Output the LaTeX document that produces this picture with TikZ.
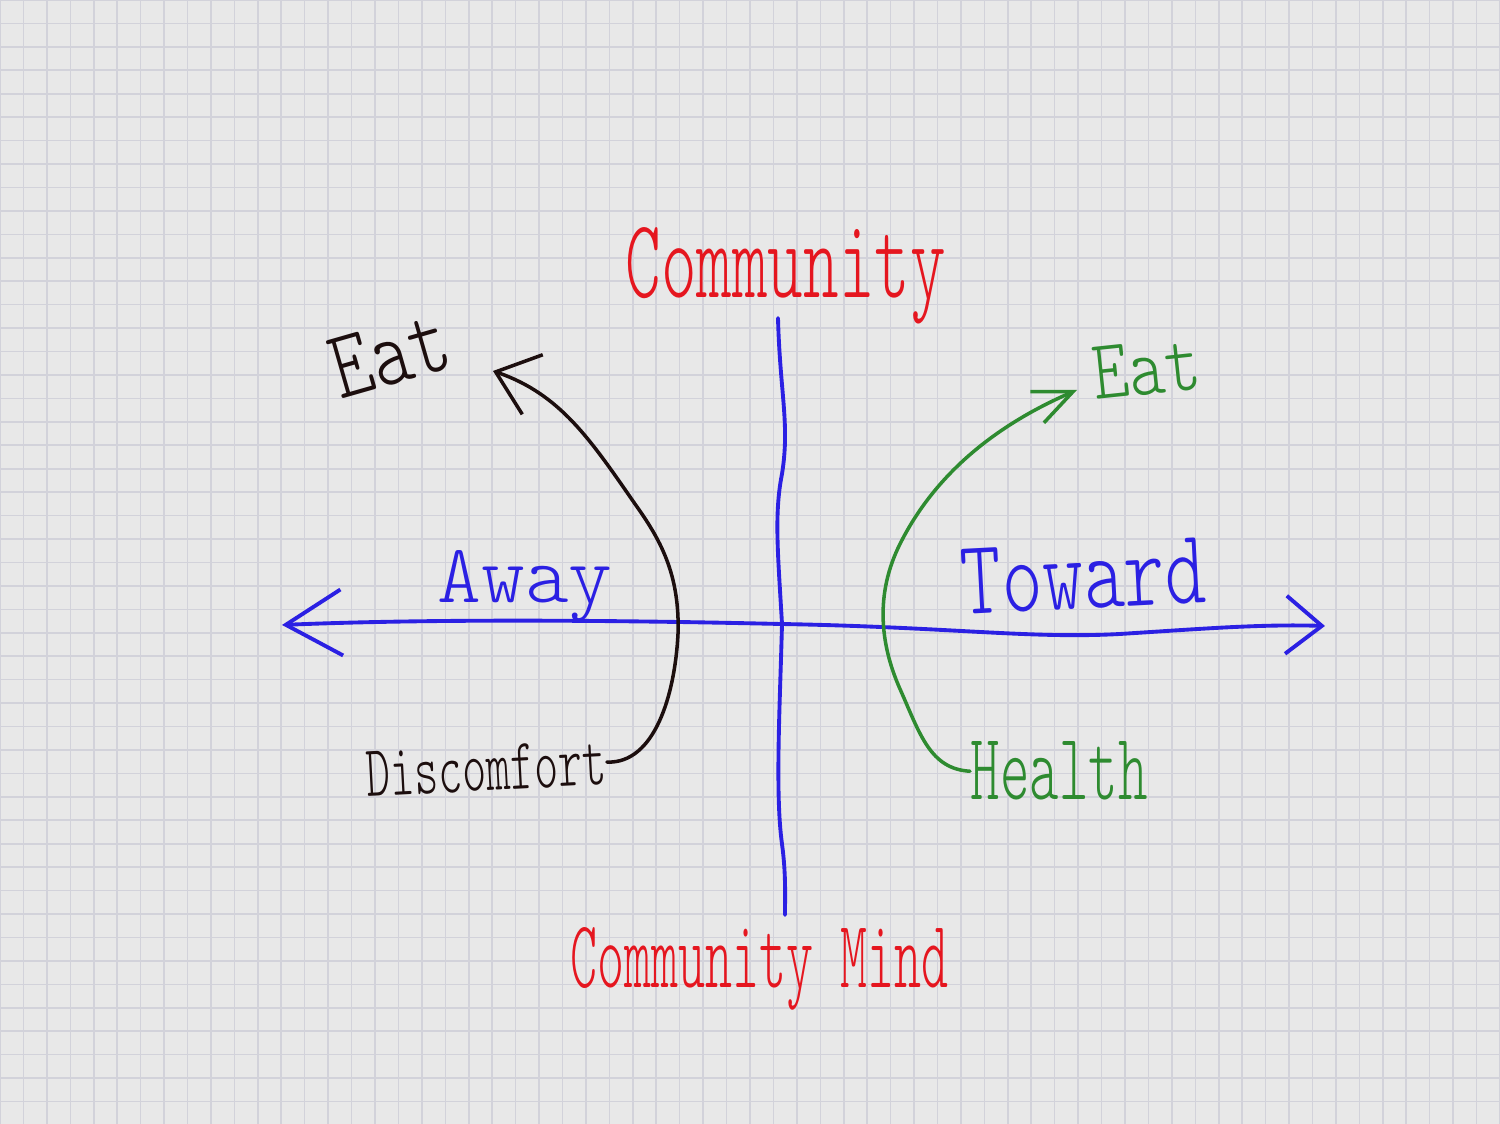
\documentclass[tikz,border=0pt]{standalone}
\usepackage{fontspec}
\usepackage{graphicx}
\usepackage{xcolor}
\usepackage{tikz}
\usetikzlibrary{arrows.meta}
\newfontfamily\handfont{lmmonolt10-regular.otf}
\definecolor{PAPER}{HTML}{E8E8E8}
\definecolor{RULE}{HTML}{D2D2DA}
\definecolor{PEN}{HTML}{2B20E3}
\definecolor{REDINK}{HTML}{E5161F}
\definecolor{LEAF}{HTML}{2E8B30}
\definecolor{INK}{HTML}{1C0E0E}
% label squeezed to the size of the handwriting: width, height, text
\newcommand{\hand}[3]{\resizebox{#1}{#2}{\handfont #3}}

\begin{document}
\begin{tikzpicture}[
  x=1cm, y=1cm,
  line cap=round, line join=round,
  axis/.style={draw=PEN, line width=1.1pt},
  curve/.style={line width=1pt},
  lab/.style={inner sep=0pt, anchor=base west},
]

% paper
\useasboundingbox (0,0) rectangle (15,11.24);
\fill[PAPER] (0,0) rectangle (15,11.24);
\begin{scope}[shift={(0,11.24)}]
  \draw[RULE, line width=0.45pt, step=0.234375] (0,-11.24) grid (15,0);
\end{scope}

% labels
\node[lab, text=REDINK] (comm) at (6.25,8.26) {\hand{3.2cm}{0.7cm}{Community}};
\node[lab, text=REDINK] (mind) at (5.70,1.36) {\hand{3.78cm}{0.6cm}{Community Mind}};
\node[lab, text=INK, rotate=16] (eatl) at (3.40,7.24) {\hand{1.2cm}{0.6cm}{Eat}};
\node[lab, text=LEAF, rotate=6] (eatr) at (10.95,7.24) {\hand{1.08cm}{0.52cm}{Eat}};
\node[lab, text=PEN] (away) at (4.37,5.21) {\hand{1.75cm}{0.52cm}{Away}};
\node[lab, text=PEN, rotate=3] (toward) at (9.62,5.09) {\hand{2.45cm}{0.65cm}{Toward}};
\node[lab, text=INK, rotate=3] (disc) at (3.67,3.27) {\hand{2.4cm}{0.45cm}{Discomfort}};
\node[lab, text=LEAF] (health) at (9.70,3.24) {\hand{1.77cm}{0.58cm}{Health}};

% axis ends and arrow tips
\coordinate (west) at (2.82,4.99);
\coordinate (east) at (13.25,4.98);
\coordinate (north) at (7.78,8.06);
\coordinate (south) at (7.85,2.09);
\coordinate (eattipl) at (4.93,7.53);
\coordinate (eattipr) at (10.77,7.34);

% away -- toward
\draw[axis, {Straight Barb[length=5.6mm,width=6.6mm]}-{Straight Barb[length=3.6mm,width=5.8mm]}]
  (west) .. controls (4.5,5.06) and (6.5,5.03) .. (7.8,5.0)
  .. controls (9.5,4.97) and (10.3,4.85) .. (11.2,4.9)
  .. controls (12,4.95) and (12.6,5.0) .. (east);
% community -- community mind
\draw[axis] (north) .. controls (7.8,7.3) and (7.9,7.0) .. (7.82,6.5)
  .. controls (7.74,6.1) and (7.78,5.7) .. (7.82,5.0)
  .. controls (7.8,4.2) and (7.75,3.3) .. (7.82,2.8)
  .. controls (7.86,2.5) and (7.85,2.3) .. (south);

% discomfort -> eat
\draw[curve, INK, -{Straight Barb[length=3.9mm,width=6.3mm]}]
  (disc.east) .. controls (6.55,3.6) and (6.75,4.3) .. (6.78,4.9)
  .. controls (6.8,5.5) and (6.6,5.85) .. (6.35,6.2)
  .. controls (5.9,6.85) and (5.6,7.3) .. (eattipl);
% health -> eat
\draw[curve, LEAF, -{Straight Barb[length=3.9mm,width=3.4mm]}]
  (health.west) .. controls (9.3,3.55) and (9.2,3.9) .. (9.0,4.35)
  .. controls (8.8,4.8) and (8.75,5.3) .. (9.0,5.8)
  .. controls (9.4,6.6) and (10.1,7.05) .. (eattipr);

\end{tikzpicture}
\end{document}
